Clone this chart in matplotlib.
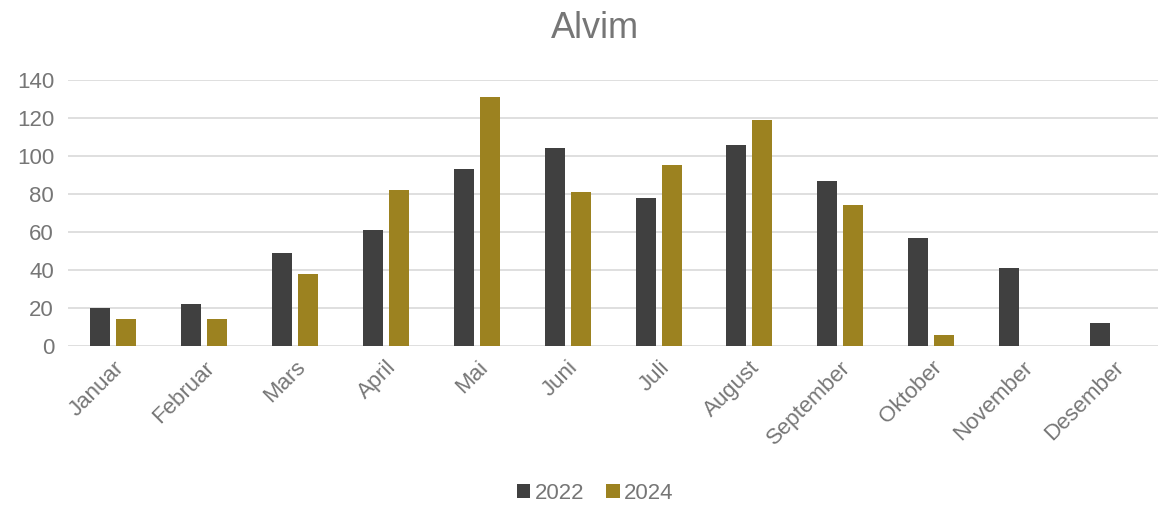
import matplotlib
matplotlib.use("Agg")
import matplotlib.pyplot as plt
import numpy as np

# months and counts
months = ["Januar", "Februar", "Mars", "April", "Mai", "Juni", "Juli",
          "August", "September", "Oktober", "November", "Desember"]
values_2022 = [20, 22, 49, 61, 93, 104, 78, 106, 87, 57, 41, 12]
values_2024 = [14, 14, 38, 82, 131, 81, 95, 119, 74, 6, 0, 0]

dark = "#404040"
gold = "#9C8220"
text_grey = "#767676"

plt.rcParams["font.family"] = ["Liberation Sans", "DejaVu Sans"]

fig = plt.figure(figsize=(11.6, 5.11), dpi=100)
ax = fig.add_axes([0.0586, 0.323, 0.94, 0.5205])

x = np.arange(len(months))
w = 0.22
gap = 0.066
ax.bar(x - (w + gap) / 2, values_2022, width=w, color=dark, label="2022", zorder=3)
ax.bar(x + (w + gap) / 2, values_2024, width=w, color=gold, label="2024", zorder=3)

ax.set_xlim(-0.5, len(months) - 0.5)
ax.set_ylim(0, 140)
ax.set_yticks(range(0, 141, 20))
ax.yaxis.grid(True, color="#d9d9d9", linewidth=1.2, zorder=0)
ax.set_axisbelow(True)
for s in ax.spines.values():
    s.set_visible(False)
ax.tick_params(axis="both", length=0, colors=text_grey, labelsize=16)
ax.tick_params(axis="y", pad=10)
ax.set_xticks(x)
ax.set_xticklabels(months, rotation=45, ha="right", rotation_mode="anchor")
ax.tick_params(axis="x", pad=8)

fig.text(0.513, 0.945, "Alvim", fontsize=26, color=text_grey, ha="center", va="center")

fig.legend(loc="lower center", bbox_to_anchor=(0.513, -0.012), ncol=2, frameon=False,
           fontsize=16, labelcolor=text_grey, handlelength=0.6, handleheight=0.6,
           handletextpad=0.2, columnspacing=1.0, borderpad=0.1)

fig.savefig("out.png", dpi=100)
